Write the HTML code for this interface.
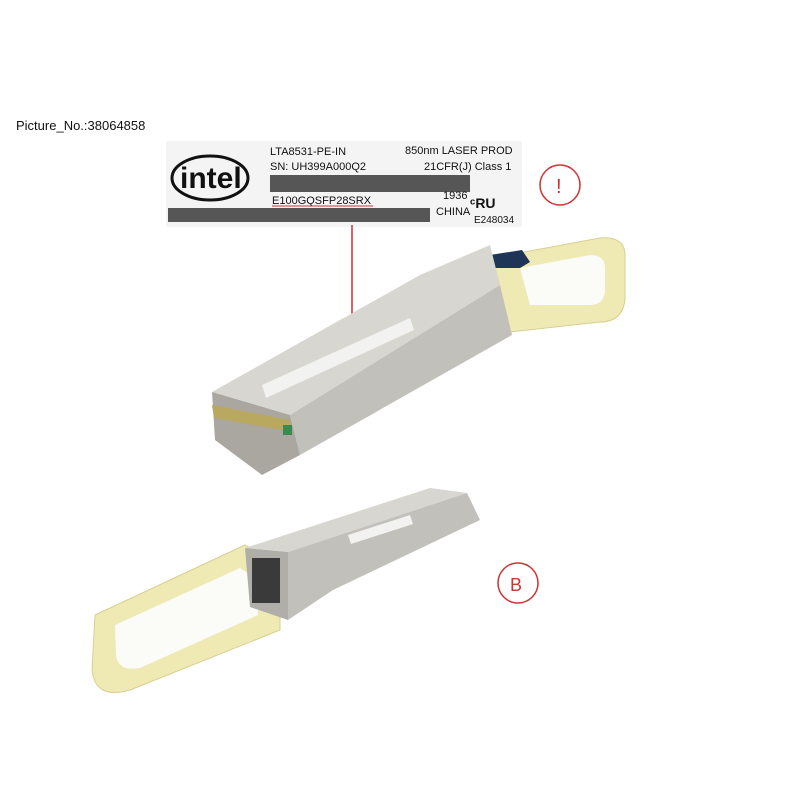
<!DOCTYPE html>
<html><head><style>
body{margin:0;width:800px;height:800px;background:#fff;overflow:hidden;font-family:"Liberation Sans",sans-serif}
.t{position:absolute;font-size:13px;color:#111;white-space:nowrap}
</style></head><body>
<div class="t" style="left:16px;top:118px;font-size:13px">Picture_No.:38064858</div>
<svg width="800" height="800" style="position:absolute;left:0;top:0" font-family="Liberation Sans">
<rect x="166" y="141" width="356" height="86" fill="#f4f4f4"/>
<ellipse cx="210" cy="178" rx="38" ry="22" fill="none" stroke="#111" stroke-width="3"/>
<text x="180" y="188" font-size="30" font-weight="bold" fill="#111">intel</text>
<text x="270" y="155" font-size="11" fill="#111">LTA8531-PE-IN</text>
<text x="270" y="170" font-size="11" fill="#111">SN: UH399A000Q2</text>
<text x="405" y="154" font-size="11" fill="#111">850nm LASER PROD</text>
<text x="424" y="170" font-size="11" fill="#111">21CFR(J) Class 1</text>
<rect x="270" y="175" width="200" height="17" fill="#222" opacity="0.75"/>
<text x="272" y="204" font-size="11" fill="#111">E100GQSFP28SRX</text>
<line x1="272" y1="206" x2="373" y2="206" stroke="#c33" stroke-width="1"/>
<text x="443" y="199" font-size="11" fill="#111">1936</text>
<text x="436" y="215" font-size="11" fill="#111">CHINA</text>
<text x="470" y="208" font-size="14" font-weight="bold" fill="#111">ᶜRU</text>
<text x="474" y="223" font-size="10" fill="#111">E248034</text>
<rect x="168" y="208" width="262" height="14" fill="#222" opacity="0.75"/>
<circle cx="560" cy="185" r="20" fill="none" stroke="#c33" stroke-width="1.5"/>
<text x="556" y="193" font-size="20" fill="#c33">!</text>
<line x1="352" y1="225" x2="352" y2="338" stroke="#c33" stroke-width="1.5"/>
<polygon points="348,334 356,334 352,342" fill="#c33"/>
<!-- top handle -->
<path d="M470,262 L600,238 Q625,236 625,255 L625,300 Q622,322 600,322 L510,332 Z" fill="#efe9b4" stroke="#d8d090"/>
<path d="M520,268 L590,255 Q605,255 605,268 L605,292 Q603,305 590,305 L530,305 Z" fill="#fbfbf7"/>
<polygon points="490,255 522,250 530,262 520,268 492,268" fill="#1e3558"/>
<!-- top body -->
<polygon points="212,392 420,275 490,245 500,285 290,415" fill="#d8d6d0"/>
<polygon points="290,415 500,285 512,335 300,455" fill="#c2c0ba"/>
<polygon points="212,392 290,415 300,455 262,475 215,440" fill="#a9a7a0"/>
<polygon points="212,405 290,420 292,432 214,418" fill="#b8a860"/>
<rect x="283" y="425" width="9" height="10" fill="#3a8a50"/>
<polygon points="262,385 410,318 414,330 266,398" fill="#f2f2f0"/>
<!-- bottom handle -->
<path d="M95,615 L245,545 L280,565 L280,630 L130,690 Q95,700 92,670 Z" fill="#efe9b4" stroke="#d8d090"/>
<path d="M115,625 L240,568 L258,580 L258,615 L140,668 Q118,672 116,655 Z" fill="#fbfbf7"/>
<!-- bottom body -->
<polygon points="245,548 430,488 467,493 288,552" fill="#d8d6d0"/>
<polygon points="288,552 467,493 480,520 333,590 288,620" fill="#c2c0ba"/>
<polygon points="245,548 288,552 288,620 250,607" fill="#b0aea8"/>
<rect x="252" y="558" width="28" height="45" fill="#3a3a3a"/>
<polygon points="348,535 410,515 413,524 351,544" fill="#f2f2f0"/>
<circle cx="518" cy="583" r="20" fill="none" stroke="#c33" stroke-width="1.5"/>
<text x="510" y="591" font-size="18" fill="#c33">B</text>
</svg>
</body></html>
